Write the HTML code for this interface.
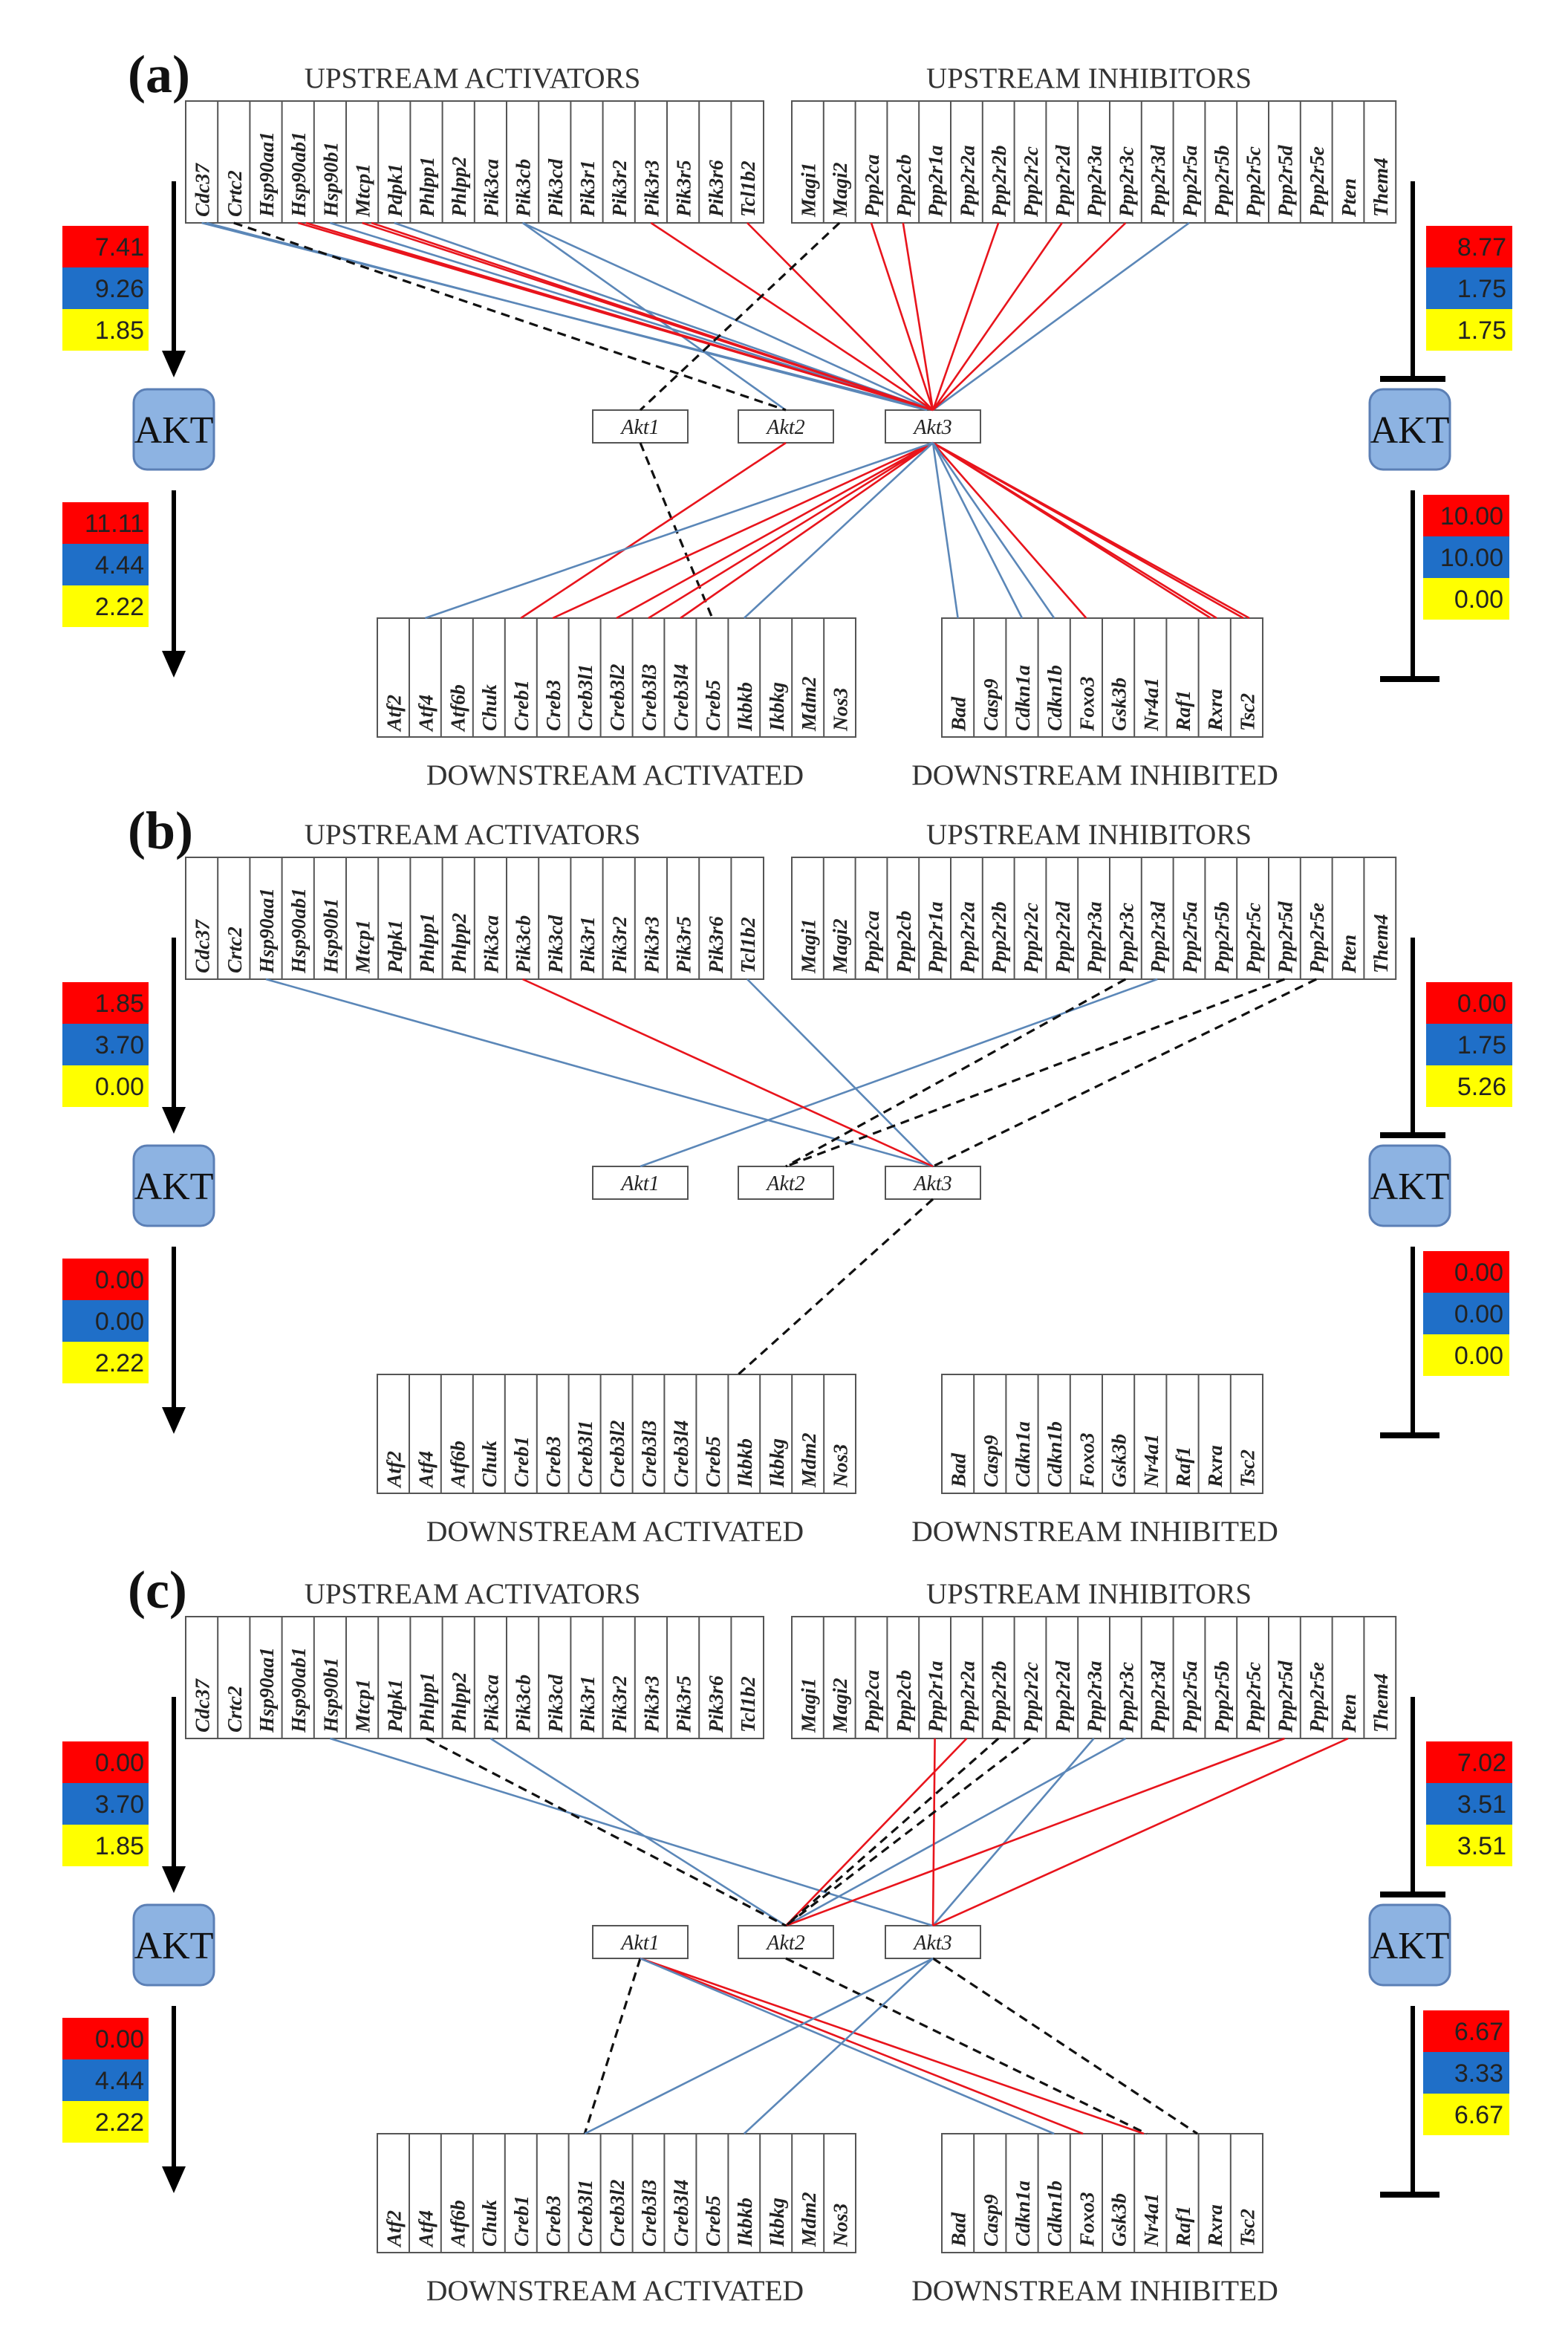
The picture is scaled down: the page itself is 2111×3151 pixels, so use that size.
<!DOCTYPE html>
<html><head><meta charset="utf-8"><style>
html,body{margin:0;padding:0;background:#fff;}
svg{display:block;}
.g{font-family:"Liberation Serif",serif;font-style:italic;font-weight:bold;font-size:13.8px;fill:#222;}
.h{font-family:"Liberation Serif",serif;font-size:19.5px;fill:#333;}
.h2{font-family:"Liberation Serif",serif;font-size:19.8px;fill:#333;}
.v{font-family:"Liberation Sans",sans-serif;font-size:17px;fill:#222;text-anchor:end;}
.ak{font-family:"Liberation Serif",serif;font-style:italic;font-size:14px;fill:#222;text-anchor:middle;}
.AKT{font-family:"Liberation Serif",serif;font-size:26px;fill:#111;text-anchor:middle;}
.lab{font-family:"Liberation Serif",serif;font-weight:bold;font-size:36px;fill:#111;}
.r{stroke:#e8141c;stroke-width:1.3;fill:none;}
.b{stroke:#5b87b8;stroke-width:1.3;fill:none;}
.d{stroke:#111;stroke-width:1.6;stroke-dasharray:6 4;fill:none;}
.t{fill:#fff;stroke:#555;stroke-width:1;}
</style></head><body>
<svg width="2111" height="3151" viewBox="0 0 1055.5 1575.5" xmlns="http://www.w3.org/2000/svg">
<defs>
<g id="skel">
 <rect class="t" x="125" y="68" width="389" height="82"/>
 <path stroke="#555" stroke-width="1" d="M146.6 68v82M168.2 68v82M189.8 68v82M211.4 68v82M233 68v82M254.6 68v82M276.2 68v82M297.8 68v82M319.4 68v82M341 68v82M362.6 68v82M384.2 68v82M405.8 68v82M427.4 68v82M449 68v82M470.6 68v82M492.2 68v82"/>
 <rect class="t" x="533" y="68" width="406.6" height="82"/>
 <path stroke="#555" stroke-width="1" d="M554.4 68v82M575.8 68v82M597.2 68v82M618.6 68v82M640 68v82M661.4 68v82M682.8 68v82M704.2 68v82M725.6 68v82M747 68v82M768.4 68v82M789.8 68v82M811.2 68v82M832.6 68v82M854 68v82M875.4 68v82M896.8 68v82M918.2 68v82"/>
 <rect class="t" x="254" y="416" width="322" height="80"/>
 <path stroke="#555" stroke-width="1" d="M275.5 416v80M296.9 416v80M318.4 416v80M339.9 416v80M361.4 416v80M382.8 416v80M404.3 416v80M425.8 416v80M447.2 416v80M468.7 416v80M490.2 416v80M511.6 416v80M533.1 416v80M554.6 416v80"/>
 <rect class="t" x="634" y="416" width="216" height="80"/>
 <path stroke="#555" stroke-width="1" d="M655.6 416v80M677.2 416v80M698.8 416v80M720.4 416v80M742 416v80M763.6 416v80M785.2 416v80M806.8 416v80M828.4 416v80"/>
 <rect class="t" x="399" y="276" width="64" height="22"/>
 <rect class="t" x="497" y="276" width="64" height="22"/>
 <rect class="t" x="596" y="276" width="64" height="22"/>
 <line x1="117" y1="122" x2="117" y2="240" stroke="#000" stroke-width="3"/>
 <path d="M109 236 L117 254 L125 236 Z" fill="#000"/>
 <line x1="117" y1="330" x2="117" y2="442" stroke="#000" stroke-width="3"/>
 <path d="M109 438 L117 456 L125 438 Z" fill="#000"/>
 <rect x="90" y="262" width="54" height="54" rx="9" fill="#8db3e2" stroke="#5b7fb5" stroke-width="1.5"/>
 <line x1="951" y1="122" x2="951" y2="255" stroke="#000" stroke-width="3"/>
 <line x1="929" y1="255" x2="973" y2="255" stroke="#000" stroke-width="4"/>
 <line x1="951" y1="330" x2="951" y2="457" stroke="#000" stroke-width="3"/>
 <line x1="929" y1="457" x2="969" y2="457" stroke="#000" stroke-width="4"/>
 <rect x="922" y="262" width="54" height="54" rx="9" fill="#8db3e2" stroke="#5b7fb5" stroke-width="1.5"/>
</g>
</defs>

<g><use href="#skel"/><text class="lab" x="86" y="62">(a)</text></g>
<g transform="translate(0,509)"><use href="#skel"/><text class="lab" x="86" y="62">(b)</text></g>
<g transform="translate(0,1020)"><use href="#skel"/><text class="lab" x="86" y="62">(c)</text></g>

<g>
<text class="h" x="318" y="59" text-anchor="middle">UPSTREAM ACTIVATORS</text>
<text class="h" x="733" y="59" text-anchor="middle">UPSTREAM INHIBITORS</text>
<text class="h2" x="414" y="528" text-anchor="middle">DOWNSTREAM ACTIVATED</text>
<text class="h2" x="737" y="528" text-anchor="middle">DOWNSTREAM INHIBITED</text>
<text class="ak" x="431" y="292">Akt1</text><text class="ak" x="529" y="292">Akt2</text><text class="ak" x="628" y="292">Akt3</text>
<text class="AKT" x="117" y="298">AKT</text><text class="AKT" x="949" y="298">AKT</text>
<g class="g">
<text transform="translate(140.8,146) rotate(-90)">Cdc37</text>
<text transform="translate(162.4,146) rotate(-90)">Crtc2</text>
<text transform="translate(184,146) rotate(-90)">Hsp90aa1</text>
<text transform="translate(205.6,146) rotate(-90)">Hsp90ab1</text>
<text transform="translate(227.2,146) rotate(-90)">Hsp90b1</text>
<text transform="translate(248.8,146) rotate(-90)">Mtcp1</text>
<text transform="translate(270.4,146) rotate(-90)">Pdpk1</text>
<text transform="translate(292,146) rotate(-90)">Phlpp1</text>
<text transform="translate(313.6,146) rotate(-90)">Phlpp2</text>
<text transform="translate(335.2,146) rotate(-90)">Pik3ca</text>
<text transform="translate(356.8,146) rotate(-90)">Pik3cb</text>
<text transform="translate(378.4,146) rotate(-90)">Pik3cd</text>
<text transform="translate(400,146) rotate(-90)">Pik3r1</text>
<text transform="translate(421.6,146) rotate(-90)">Pik3r2</text>
<text transform="translate(443.2,146) rotate(-90)">Pik3r3</text>
<text transform="translate(464.8,146) rotate(-90)">Pik3r5</text>
<text transform="translate(486.4,146) rotate(-90)">Pik3r6</text>
<text transform="translate(508,146) rotate(-90)">Tcl1b2</text>
<text transform="translate(548.7,146) rotate(-90)">Magi1</text>
<text transform="translate(570.1,146) rotate(-90)">Magi2</text>
<text transform="translate(591.5,146) rotate(-90)">Ppp2ca</text>
<text transform="translate(612.9,146) rotate(-90)">Ppp2cb</text>
<text transform="translate(634.3,146) rotate(-90)">Ppp2r1a</text>
<text transform="translate(655.7,146) rotate(-90)">Ppp2r2a</text>
<text transform="translate(677.1,146) rotate(-90)">Ppp2r2b</text>
<text transform="translate(698.5,146) rotate(-90)">Ppp2r2c</text>
<text transform="translate(719.9,146) rotate(-90)">Ppp2r2d</text>
<text transform="translate(741.3,146) rotate(-90)">Ppp2r3a</text>
<text transform="translate(762.7,146) rotate(-90)">Ppp2r3c</text>
<text transform="translate(784.1,146) rotate(-90)">Ppp2r3d</text>
<text transform="translate(805.5,146) rotate(-90)">Ppp2r5a</text>
<text transform="translate(826.9,146) rotate(-90)">Ppp2r5b</text>
<text transform="translate(848.3,146) rotate(-90)">Ppp2r5c</text>
<text transform="translate(869.7,146) rotate(-90)">Ppp2r5d</text>
<text transform="translate(891.1,146) rotate(-90)">Ppp2r5e</text>
<text transform="translate(912.5,146) rotate(-90)">Pten</text>
<text transform="translate(933.9,146) rotate(-90)">Them4</text>
<text transform="translate(269.7,492) rotate(-90)">Atf2</text>
<text transform="translate(291.2,492) rotate(-90)">Atf4</text>
<text transform="translate(312.7,492) rotate(-90)">Atf6b</text>
<text transform="translate(334.1,492) rotate(-90)">Chuk</text>
<text transform="translate(355.6,492) rotate(-90)">Creb1</text>
<text transform="translate(377.1,492) rotate(-90)">Creb3</text>
<text transform="translate(398.6,492) rotate(-90)">Creb3l1</text>
<text transform="translate(420,492) rotate(-90)">Creb3l2</text>
<text transform="translate(441.5,492) rotate(-90)">Creb3l3</text>
<text transform="translate(463,492) rotate(-90)">Creb3l4</text>
<text transform="translate(484.5,492) rotate(-90)">Creb5</text>
<text transform="translate(505.9,492) rotate(-90)">Ikbkb</text>
<text transform="translate(527.4,492) rotate(-90)">Ikbkg</text>
<text transform="translate(548.9,492) rotate(-90)">Mdm2</text>
<text transform="translate(570.3,492) rotate(-90)">Nos3</text>
<text transform="translate(649.8,492) rotate(-90)">Bad</text>
<text transform="translate(671.4,492) rotate(-90)">Casp9</text>
<text transform="translate(693,492) rotate(-90)">Cdkn1a</text>
<text transform="translate(714.6,492) rotate(-90)">Cdkn1b</text>
<text transform="translate(736.2,492) rotate(-90)">Foxo3</text>
<text transform="translate(757.8,492) rotate(-90)">Gsk3b</text>
<text transform="translate(779.4,492) rotate(-90)">Nr4a1</text>
<text transform="translate(801,492) rotate(-90)">Raf1</text>
<text transform="translate(822.6,492) rotate(-90)">Rxra</text>
<text transform="translate(844.2,492) rotate(-90)">Tsc2</text>
</g>
</g>

<g transform="translate(0,509)">
<text class="h" x="318" y="59" text-anchor="middle">UPSTREAM ACTIVATORS</text>
<text class="h" x="733" y="59" text-anchor="middle">UPSTREAM INHIBITORS</text>
<text class="h2" x="414" y="528" text-anchor="middle">DOWNSTREAM ACTIVATED</text>
<text class="h2" x="737" y="528" text-anchor="middle">DOWNSTREAM INHIBITED</text>
<text class="ak" x="431" y="292">Akt1</text><text class="ak" x="529" y="292">Akt2</text><text class="ak" x="628" y="292">Akt3</text>
<text class="AKT" x="117" y="298">AKT</text><text class="AKT" x="949" y="298">AKT</text>
<g class="g">
<text transform="translate(140.8,146) rotate(-90)">Cdc37</text>
<text transform="translate(162.4,146) rotate(-90)">Crtc2</text>
<text transform="translate(184,146) rotate(-90)">Hsp90aa1</text>
<text transform="translate(205.6,146) rotate(-90)">Hsp90ab1</text>
<text transform="translate(227.2,146) rotate(-90)">Hsp90b1</text>
<text transform="translate(248.8,146) rotate(-90)">Mtcp1</text>
<text transform="translate(270.4,146) rotate(-90)">Pdpk1</text>
<text transform="translate(292,146) rotate(-90)">Phlpp1</text>
<text transform="translate(313.6,146) rotate(-90)">Phlpp2</text>
<text transform="translate(335.2,146) rotate(-90)">Pik3ca</text>
<text transform="translate(356.8,146) rotate(-90)">Pik3cb</text>
<text transform="translate(378.4,146) rotate(-90)">Pik3cd</text>
<text transform="translate(400,146) rotate(-90)">Pik3r1</text>
<text transform="translate(421.6,146) rotate(-90)">Pik3r2</text>
<text transform="translate(443.2,146) rotate(-90)">Pik3r3</text>
<text transform="translate(464.8,146) rotate(-90)">Pik3r5</text>
<text transform="translate(486.4,146) rotate(-90)">Pik3r6</text>
<text transform="translate(508,146) rotate(-90)">Tcl1b2</text>
<text transform="translate(548.7,146) rotate(-90)">Magi1</text>
<text transform="translate(570.1,146) rotate(-90)">Magi2</text>
<text transform="translate(591.5,146) rotate(-90)">Ppp2ca</text>
<text transform="translate(612.9,146) rotate(-90)">Ppp2cb</text>
<text transform="translate(634.3,146) rotate(-90)">Ppp2r1a</text>
<text transform="translate(655.7,146) rotate(-90)">Ppp2r2a</text>
<text transform="translate(677.1,146) rotate(-90)">Ppp2r2b</text>
<text transform="translate(698.5,146) rotate(-90)">Ppp2r2c</text>
<text transform="translate(719.9,146) rotate(-90)">Ppp2r2d</text>
<text transform="translate(741.3,146) rotate(-90)">Ppp2r3a</text>
<text transform="translate(762.7,146) rotate(-90)">Ppp2r3c</text>
<text transform="translate(784.1,146) rotate(-90)">Ppp2r3d</text>
<text transform="translate(805.5,146) rotate(-90)">Ppp2r5a</text>
<text transform="translate(826.9,146) rotate(-90)">Ppp2r5b</text>
<text transform="translate(848.3,146) rotate(-90)">Ppp2r5c</text>
<text transform="translate(869.7,146) rotate(-90)">Ppp2r5d</text>
<text transform="translate(891.1,146) rotate(-90)">Ppp2r5e</text>
<text transform="translate(912.5,146) rotate(-90)">Pten</text>
<text transform="translate(933.9,146) rotate(-90)">Them4</text>
<text transform="translate(269.7,492) rotate(-90)">Atf2</text>
<text transform="translate(291.2,492) rotate(-90)">Atf4</text>
<text transform="translate(312.7,492) rotate(-90)">Atf6b</text>
<text transform="translate(334.1,492) rotate(-90)">Chuk</text>
<text transform="translate(355.6,492) rotate(-90)">Creb1</text>
<text transform="translate(377.1,492) rotate(-90)">Creb3</text>
<text transform="translate(398.6,492) rotate(-90)">Creb3l1</text>
<text transform="translate(420,492) rotate(-90)">Creb3l2</text>
<text transform="translate(441.5,492) rotate(-90)">Creb3l3</text>
<text transform="translate(463,492) rotate(-90)">Creb3l4</text>
<text transform="translate(484.5,492) rotate(-90)">Creb5</text>
<text transform="translate(505.9,492) rotate(-90)">Ikbkb</text>
<text transform="translate(527.4,492) rotate(-90)">Ikbkg</text>
<text transform="translate(548.9,492) rotate(-90)">Mdm2</text>
<text transform="translate(570.3,492) rotate(-90)">Nos3</text>
<text transform="translate(649.8,492) rotate(-90)">Bad</text>
<text transform="translate(671.4,492) rotate(-90)">Casp9</text>
<text transform="translate(693,492) rotate(-90)">Cdkn1a</text>
<text transform="translate(714.6,492) rotate(-90)">Cdkn1b</text>
<text transform="translate(736.2,492) rotate(-90)">Foxo3</text>
<text transform="translate(757.8,492) rotate(-90)">Gsk3b</text>
<text transform="translate(779.4,492) rotate(-90)">Nr4a1</text>
<text transform="translate(801,492) rotate(-90)">Raf1</text>
<text transform="translate(822.6,492) rotate(-90)">Rxra</text>
<text transform="translate(844.2,492) rotate(-90)">Tsc2</text>
</g>
</g>

<g transform="translate(0,1020)">
<text class="h" x="318" y="59" text-anchor="middle">UPSTREAM ACTIVATORS</text>
<text class="h" x="733" y="59" text-anchor="middle">UPSTREAM INHIBITORS</text>
<text class="h2" x="414" y="528" text-anchor="middle">DOWNSTREAM ACTIVATED</text>
<text class="h2" x="737" y="528" text-anchor="middle">DOWNSTREAM INHIBITED</text>
<text class="ak" x="431" y="292">Akt1</text><text class="ak" x="529" y="292">Akt2</text><text class="ak" x="628" y="292">Akt3</text>
<text class="AKT" x="117" y="298">AKT</text><text class="AKT" x="949" y="298">AKT</text>
<g class="g">
<text transform="translate(140.8,146) rotate(-90)">Cdc37</text>
<text transform="translate(162.4,146) rotate(-90)">Crtc2</text>
<text transform="translate(184,146) rotate(-90)">Hsp90aa1</text>
<text transform="translate(205.6,146) rotate(-90)">Hsp90ab1</text>
<text transform="translate(227.2,146) rotate(-90)">Hsp90b1</text>
<text transform="translate(248.8,146) rotate(-90)">Mtcp1</text>
<text transform="translate(270.4,146) rotate(-90)">Pdpk1</text>
<text transform="translate(292,146) rotate(-90)">Phlpp1</text>
<text transform="translate(313.6,146) rotate(-90)">Phlpp2</text>
<text transform="translate(335.2,146) rotate(-90)">Pik3ca</text>
<text transform="translate(356.8,146) rotate(-90)">Pik3cb</text>
<text transform="translate(378.4,146) rotate(-90)">Pik3cd</text>
<text transform="translate(400,146) rotate(-90)">Pik3r1</text>
<text transform="translate(421.6,146) rotate(-90)">Pik3r2</text>
<text transform="translate(443.2,146) rotate(-90)">Pik3r3</text>
<text transform="translate(464.8,146) rotate(-90)">Pik3r5</text>
<text transform="translate(486.4,146) rotate(-90)">Pik3r6</text>
<text transform="translate(508,146) rotate(-90)">Tcl1b2</text>
<text transform="translate(548.7,146) rotate(-90)">Magi1</text>
<text transform="translate(570.1,146) rotate(-90)">Magi2</text>
<text transform="translate(591.5,146) rotate(-90)">Ppp2ca</text>
<text transform="translate(612.9,146) rotate(-90)">Ppp2cb</text>
<text transform="translate(634.3,146) rotate(-90)">Ppp2r1a</text>
<text transform="translate(655.7,146) rotate(-90)">Ppp2r2a</text>
<text transform="translate(677.1,146) rotate(-90)">Ppp2r2b</text>
<text transform="translate(698.5,146) rotate(-90)">Ppp2r2c</text>
<text transform="translate(719.9,146) rotate(-90)">Ppp2r2d</text>
<text transform="translate(741.3,146) rotate(-90)">Ppp2r3a</text>
<text transform="translate(762.7,146) rotate(-90)">Ppp2r3c</text>
<text transform="translate(784.1,146) rotate(-90)">Ppp2r3d</text>
<text transform="translate(805.5,146) rotate(-90)">Ppp2r5a</text>
<text transform="translate(826.9,146) rotate(-90)">Ppp2r5b</text>
<text transform="translate(848.3,146) rotate(-90)">Ppp2r5c</text>
<text transform="translate(869.7,146) rotate(-90)">Ppp2r5d</text>
<text transform="translate(891.1,146) rotate(-90)">Ppp2r5e</text>
<text transform="translate(912.5,146) rotate(-90)">Pten</text>
<text transform="translate(933.9,146) rotate(-90)">Them4</text>
<text transform="translate(269.7,492) rotate(-90)">Atf2</text>
<text transform="translate(291.2,492) rotate(-90)">Atf4</text>
<text transform="translate(312.7,492) rotate(-90)">Atf6b</text>
<text transform="translate(334.1,492) rotate(-90)">Chuk</text>
<text transform="translate(355.6,492) rotate(-90)">Creb1</text>
<text transform="translate(377.1,492) rotate(-90)">Creb3</text>
<text transform="translate(398.6,492) rotate(-90)">Creb3l1</text>
<text transform="translate(420,492) rotate(-90)">Creb3l2</text>
<text transform="translate(441.5,492) rotate(-90)">Creb3l3</text>
<text transform="translate(463,492) rotate(-90)">Creb3l4</text>
<text transform="translate(484.5,492) rotate(-90)">Creb5</text>
<text transform="translate(505.9,492) rotate(-90)">Ikbkb</text>
<text transform="translate(527.4,492) rotate(-90)">Ikbkg</text>
<text transform="translate(548.9,492) rotate(-90)">Mdm2</text>
<text transform="translate(570.3,492) rotate(-90)">Nos3</text>
<text transform="translate(649.8,492) rotate(-90)">Bad</text>
<text transform="translate(671.4,492) rotate(-90)">Casp9</text>
<text transform="translate(693,492) rotate(-90)">Cdkn1a</text>
<text transform="translate(714.6,492) rotate(-90)">Cdkn1b</text>
<text transform="translate(736.2,492) rotate(-90)">Foxo3</text>
<text transform="translate(757.8,492) rotate(-90)">Gsk3b</text>
<text transform="translate(779.4,492) rotate(-90)">Nr4a1</text>
<text transform="translate(801,492) rotate(-90)">Raf1</text>
<text transform="translate(822.6,492) rotate(-90)">Rxra</text>
<text transform="translate(844.2,492) rotate(-90)">Tsc2</text>
</g>
</g>

<!-- value boxes -->
<g>
 <rect x="42" y="152" width="58" height="28" fill="#ff0000"/><rect x="42" y="180" width="58" height="28" fill="#1f6fc8"/><rect x="42" y="208" width="58" height="28" fill="#ffff00"/>
 <text class="v" x="97" y="172">7.41</text><text class="v" x="97" y="200">9.26</text><text class="v" x="97" y="228">1.85</text>
 <rect x="42" y="338" width="58" height="28" fill="#ff0000"/><rect x="42" y="366" width="58" height="28" fill="#1f6fc8"/><rect x="42" y="394" width="58" height="28" fill="#ffff00"/>
 <text class="v" x="97" y="358">11.11</text><text class="v" x="97" y="386">4.44</text><text class="v" x="97" y="414">2.22</text>
 <rect x="960" y="152" width="58" height="28" fill="#ff0000"/><rect x="960" y="180" width="58" height="28" fill="#1f6fc8"/><rect x="960" y="208" width="58" height="28" fill="#ffff00"/>
 <text class="v" x="1014" y="172">8.77</text><text class="v" x="1014" y="200">1.75</text><text class="v" x="1014" y="228">1.75</text>
 <rect x="958" y="333" width="58" height="28" fill="#ff0000"/><rect x="958" y="361" width="58" height="28" fill="#1f6fc8"/><rect x="958" y="389" width="58" height="28" fill="#ffff00"/>
 <text class="v" x="1012" y="353">10.00</text><text class="v" x="1012" y="381">10.00</text><text class="v" x="1012" y="409">0.00</text>
</g>
<g transform="translate(0,509)">
 <rect x="42" y="152" width="58" height="28" fill="#ff0000"/><rect x="42" y="180" width="58" height="28" fill="#1f6fc8"/><rect x="42" y="208" width="58" height="28" fill="#ffff00"/>
 <text class="v" x="97" y="172">1.85</text><text class="v" x="97" y="200">3.70</text><text class="v" x="97" y="228">0.00</text>
 <rect x="42" y="338" width="58" height="28" fill="#ff0000"/><rect x="42" y="366" width="58" height="28" fill="#1f6fc8"/><rect x="42" y="394" width="58" height="28" fill="#ffff00"/>
 <text class="v" x="97" y="358">0.00</text><text class="v" x="97" y="386">0.00</text><text class="v" x="97" y="414">2.22</text>
 <rect x="960" y="152" width="58" height="28" fill="#ff0000"/><rect x="960" y="180" width="58" height="28" fill="#1f6fc8"/><rect x="960" y="208" width="58" height="28" fill="#ffff00"/>
 <text class="v" x="1014" y="172">0.00</text><text class="v" x="1014" y="200">1.75</text><text class="v" x="1014" y="228">5.26</text>
 <rect x="958" y="333" width="58" height="28" fill="#ff0000"/><rect x="958" y="361" width="58" height="28" fill="#1f6fc8"/><rect x="958" y="389" width="58" height="28" fill="#ffff00"/>
 <text class="v" x="1012" y="353">0.00</text><text class="v" x="1012" y="381">0.00</text><text class="v" x="1012" y="409">0.00</text>
</g>
<g transform="translate(0,1020)">
 <rect x="42" y="152" width="58" height="28" fill="#ff0000"/><rect x="42" y="180" width="58" height="28" fill="#1f6fc8"/><rect x="42" y="208" width="58" height="28" fill="#ffff00"/>
 <text class="v" x="97" y="172">0.00</text><text class="v" x="97" y="200">3.70</text><text class="v" x="97" y="228">1.85</text>
 <rect x="42" y="338" width="58" height="28" fill="#ff0000"/><rect x="42" y="366" width="58" height="28" fill="#1f6fc8"/><rect x="42" y="394" width="58" height="28" fill="#ffff00"/>
 <text class="v" x="97" y="358">0.00</text><text class="v" x="97" y="386">4.44</text><text class="v" x="97" y="414">2.22</text>
 <rect x="960" y="152" width="58" height="28" fill="#ff0000"/><rect x="960" y="180" width="58" height="28" fill="#1f6fc8"/><rect x="960" y="208" width="58" height="28" fill="#ffff00"/>
 <text class="v" x="1014" y="172">7.02</text><text class="v" x="1014" y="200">3.51</text><text class="v" x="1014" y="228">3.51</text>
 <rect x="958" y="333" width="58" height="28" fill="#ff0000"/><rect x="958" y="361" width="58" height="28" fill="#1f6fc8"/><rect x="958" y="389" width="58" height="28" fill="#ffff00"/>
 <text class="v" x="1012" y="353">6.67</text><text class="v" x="1012" y="381">3.33</text><text class="v" x="1012" y="409">6.67</text>
</g>

<!-- connectors -->
<g>
 <path class="b" d="M135.8 150L628 276M139 150L624 276M222.2 150L628 276M265.4 150L628 276M351.8 150L529 276M351.8 150L628 276M800.5 150L628 276"/>
 <path class="r" d="M200.6 150L628 276M206 150L628 276M243.8 150L628 276M250 150L628 276M438.2 150L628 276M503 150L628 276M586.5 150L628 276M607.9 150L628 276M672.1 150L628 276M714.9 150L628 276M757.7 150L628 276"/>
 <path class="d" d="M157.4 150L529 276M565.1 150L431 276M431 298L479.5 416"/>
 <path class="r" d="M529 298L350.6 416M628 298L372.1 416M628 298L415 416M628 298L436.5 416M628 298L458 416M628 298L731.2 416M628 298L815 416M628 298L819 416M628 298L837 416M628 298L841 416"/>
 <path class="b" d="M628 298L286.2 416M628 298L500.9 416M628 298L644.8 416M628 298L688 416M628 298L709.6 416"/>
</g>
<g transform="translate(0,509)">
 <path class="b" d="M179 150L628 276M503 150L628 276M779.1 150L431 276"/>
 <path class="r" d="M351.8 150L628 276"/>
 <path class="d" d="M757.7 150L529 276M864.7 150L529 276M886.1 150L628 276M628 298L497 416"/>
</g>
<g transform="translate(0,1020)">
 <path class="b" d="M222.2 150L628 276M330.2 150L529 276M736.3 150L628 276M757.7 150L529 276"/>
 <path class="r" d="M629.3 150L628 276M650.7 150L529 276M864.7 150L529 276M907.5 150L628 276"/>
 <path class="d" d="M287 150L529 276M672.1 150L529 276M693.5 150L529 276"/>
 <path class="d" d="M431 298L393.6 416M529 298L772 416M628 298L806 416"/>
 <path class="r" d="M431 298L729 416M431 298L770 416"/>
 <path class="b" d="M431 298L709.6 416M628 298L393.6 416M628 298L500.9 416"/>
</g>
</svg>
</body></html>
